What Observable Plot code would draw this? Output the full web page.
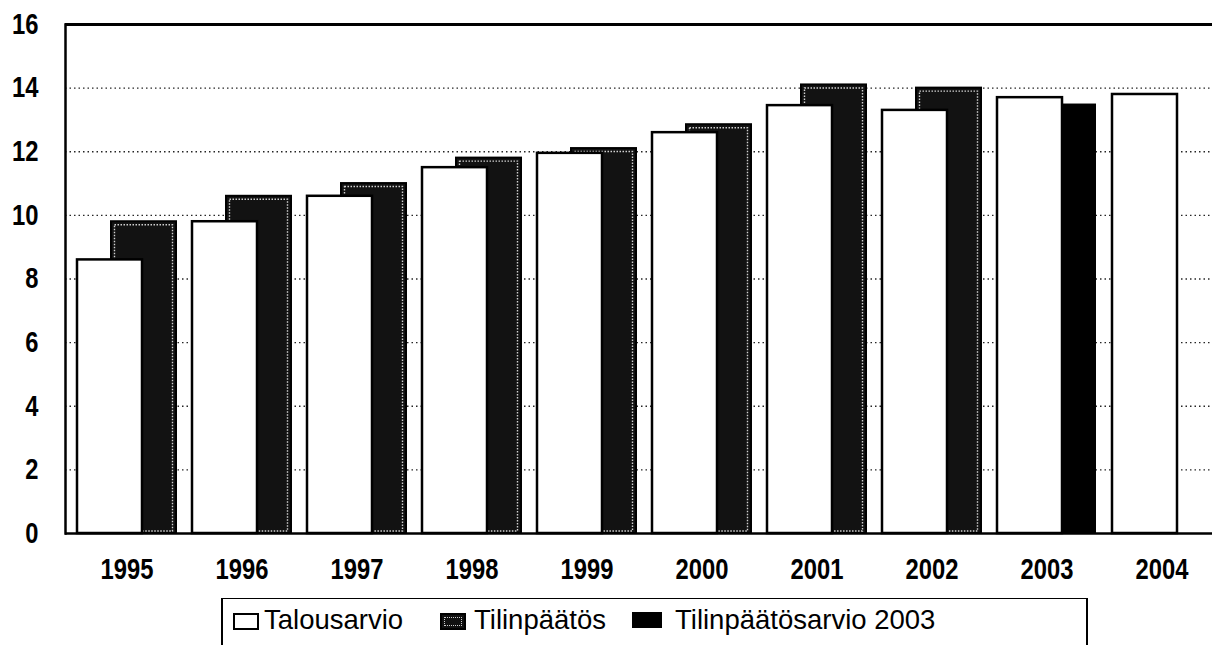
<!DOCTYPE html>
<html>
<head>
<meta charset="utf-8">
<script src="https://cdn.jsdelivr.net/npm/d3@7"></script>
<script src="https://cdn.jsdelivr.net/npm/@observablehq/plot@0.6"></script>
<style>
  html, body { margin: 0; padding: 0; background: #fff; overflow: hidden; }
  body { width: 1212px; height: 645px; position: relative;
         font-family: "Liberation Sans", Arial, sans-serif; }
  #chart svg { display: block; }
  #legend { position: absolute; left: 221px; top: 598px; width: 867px; height: 70px;
            border: 2px solid #000; border-top-width: 1.5px; box-sizing: border-box; color: #000; }
  .sw { position: absolute; width: 26px; height: 17px; box-sizing: border-box; top: 14px; }
  .sw.ta { background: #fff; border: 2px solid #000; }
  .sw.tp { background: #111; border: 2px solid #000; outline: 1px dotted #ccc; outline-offset: -5px; }
  .sw.ar { background: #000; border: 2px solid #000; width: 30px; height: 16px; top: 13px; }
  .lt { position: absolute; top: 5px; font-size: 27.5px; white-space: nowrap; }
</style>
</head>
<body>
<div id="chart"></div>
<div id="legend"></div>
<script>
const years = ["1995","1996","1997","1998","1999","2000","2001","2002","2003","2004"];
const talousarvio = [8.6, 9.8, 10.6, 11.5, 11.95, 12.6, 13.45, 13.3, 13.7, 13.8];
const tilinpaatos = [9.8, 10.6, 11.0, 11.8, 12.1, 12.85, 14.1, 14.0, null, null];
const tilinpaatosarvio2003 = [null, null, null, null, null, null, null, null, 13.5, null];
const seriesNames = ["Talousarvio", "Tilinpäätös", "Tilinpäätösarvio 2003"];
const yTicks = [0, 2, 4, 6, 8, 10, 12, 14, 16];

const rows = vals => years.map((year, i) => ({year, value: vals[i]})).filter(d => d.value != null);
const taRows = rows(talousarvio);
const tpRows = rows(tilinpaatos);
const arRows = rows(tilinpaatosarvio2003);

const font = '"Liberation Sans", Arial, sans-serif';

const chart = Plot.plot({
  width: 1212,
  height: 595,
  marginLeft: 65,
  marginRight: -10,
  marginTop: 24,
  marginBottom: 62,
  style: {fontFamily: font, fontSize: "29px", fontWeight: "bold", color: "#000", background: "#fff"},
  x: {domain: years, padding: 0},
  y: {domain: [0, 16]},
  marks: [
    Plot.gridY(yTicks.filter(t => t > 0 && t < 16), {stroke: "#000", strokeOpacity: 0.85, strokeWidth: 1.3, strokeDasharray: "1.5,3"}),
    Plot.barY(tpRows, {x: "year", y: "value", fill: "#121212", stroke: "#000", strokeWidth: 2, insetLeft: 42, insetRight: 8}),
    Plot.barY(tpRows, {x: "year", y: "value", fill: "none", stroke: "#d0d0d0", strokeWidth: 1.4, strokeDasharray: "1.5,1.5", insetLeft: 45.5, insetRight: 11.5, insetTop: 3.5, insetBottom: 2}),
    Plot.barY(arRows, {x: "year", y: "value", fill: "#000", insetLeft: 42, insetRight: 8}),
    Plot.barY(taRows, {x: "year", y: "value", fill: "#fff", stroke: "#000", strokeWidth: 2.5, insetLeft: 8, insetRight: 42}),
    Plot.ruleY([0], {stroke: "#000", strokeWidth: 2.5}),
    Plot.ruleY([16], {stroke: "#000", strokeWidth: 3}),
    Plot.frame({anchor: "left", stroke: "#000", strokeWidth: 2.5}),
    Plot.axisY(yTicks, {tickSize: 0, tickPadding: 27, label: null, fontSize: 29, fontWeight: "bold"}),
    Plot.axisX({tickSize: 0, tickPadding: 25, label: null, fontSize: 29, fontWeight: "bold"})
  ]
});
document.getElementById("chart").appendChild(chart);

// condense the tick labels (the original uses a condensed face)
chart.querySelectorAll("text").forEach(t => {
  const len = t.getComputedTextLength();
  if (len > 0) {
    t.setAttribute("textLength", (len * 0.82).toFixed(1));
    t.setAttribute("lengthAdjust", "spacingAndGlyphs");
  }
});

const legend = document.getElementById("legend");
const cls = ["ta", "tp", "ar"];
const swLeft = [10, 217, 409];
const txLeft = [41, 251, 452];
seriesNames.forEach((name, i) => {
  const sw = document.createElement("div");
  sw.className = "sw " + cls[i];
  sw.style.left = swLeft[i] + "px";
  const tx = document.createElement("span");
  tx.className = "lt";
  tx.style.left = txLeft[i] + "px";
  tx.textContent = name;
  legend.appendChild(sw);
  legend.appendChild(tx);
});
</script>
</body>
</html>
